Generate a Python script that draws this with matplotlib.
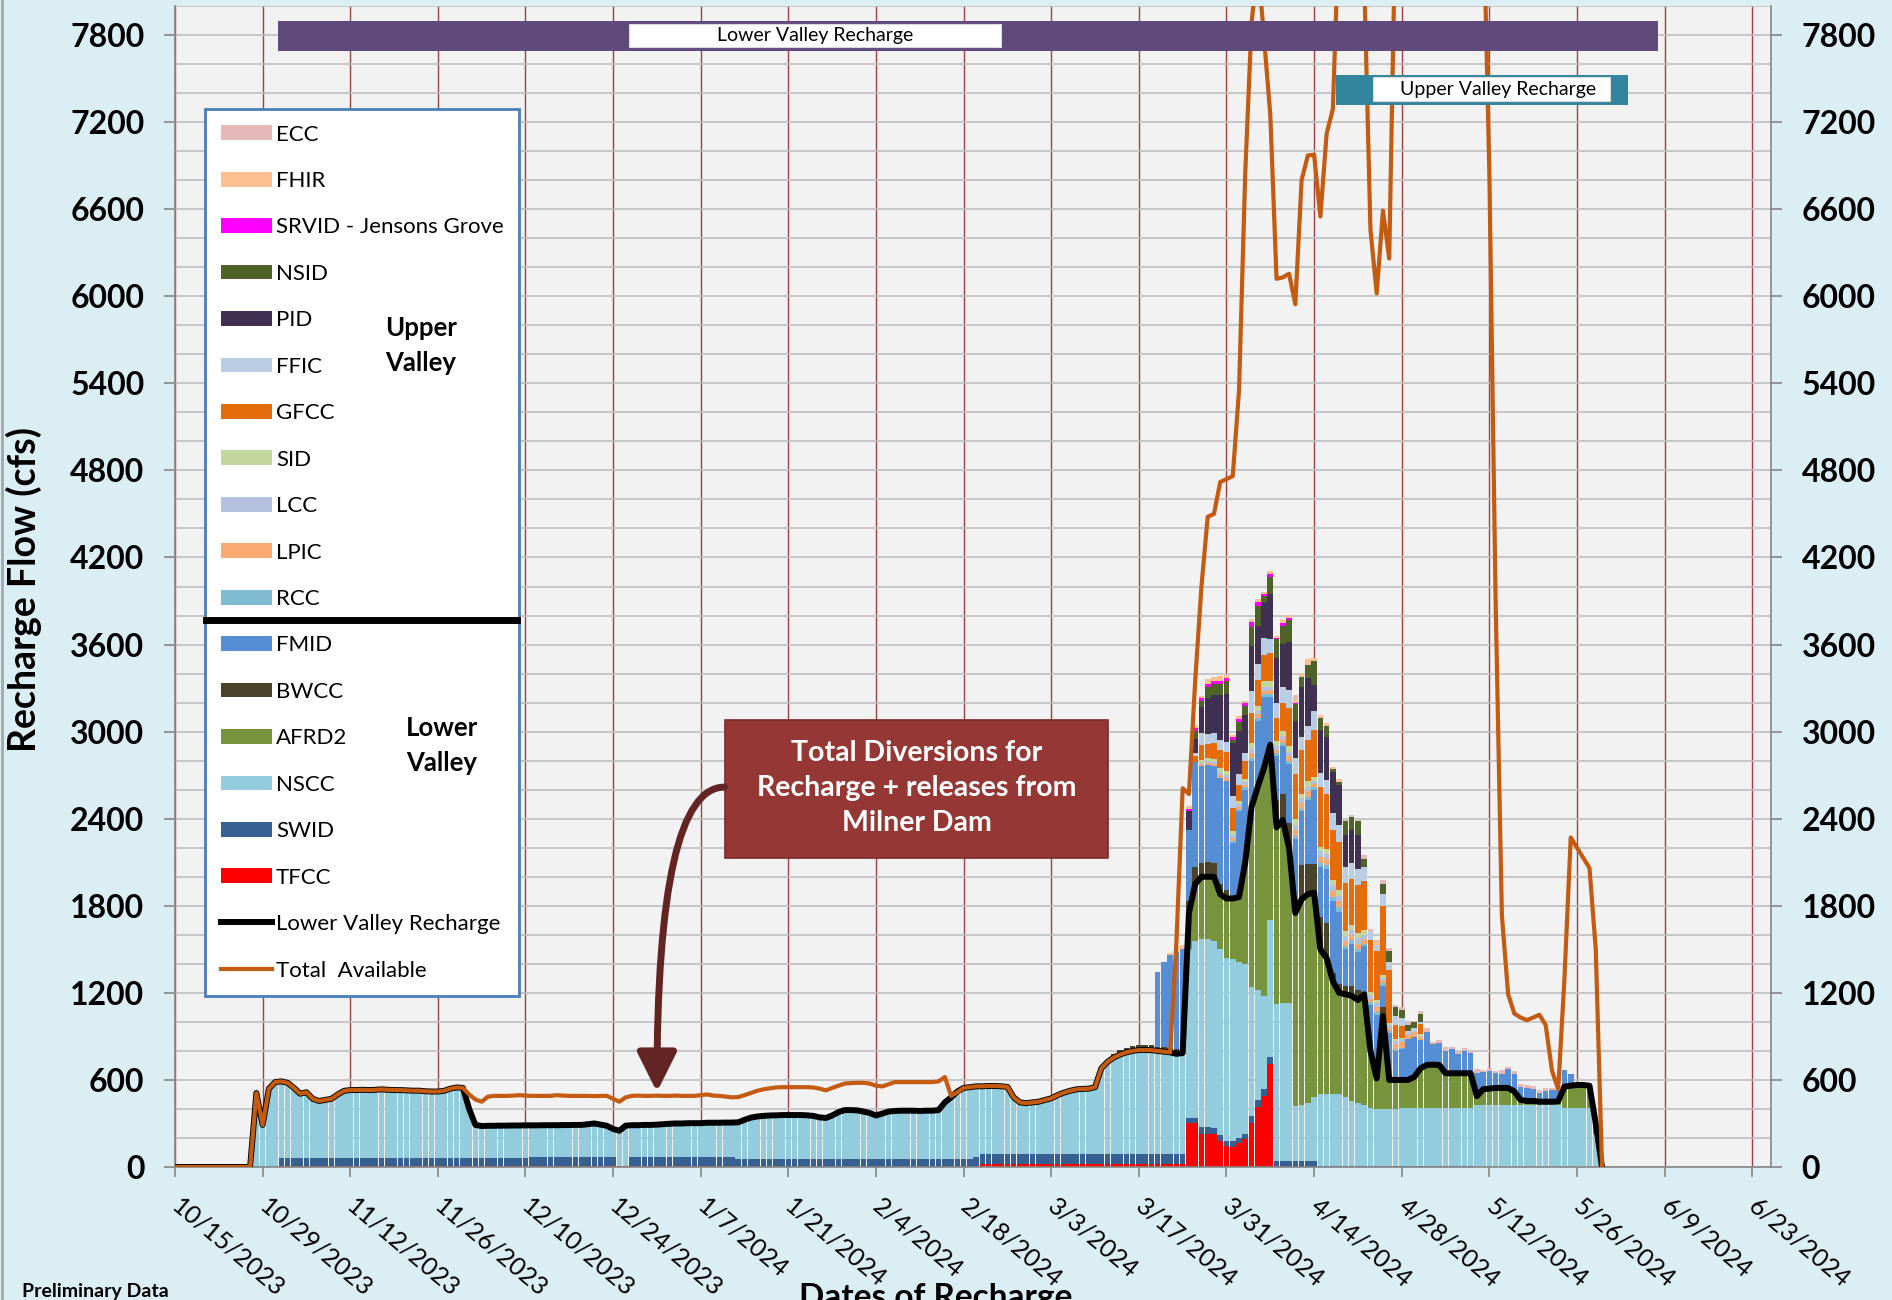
import numpy as np
import pandas as pd
import matplotlib
matplotlib.use('Agg')
import matplotlib.pyplot as plt
import matplotlib.dates as mdates
from matplotlib.patches import Patch, Rectangle
from matplotlib.lines import Line2D

plt.rcParams['font.family'] = ['Lato', 'DejaVu Sans']

# daily values 10/15/2023 .. 5/30/2024 (cfs)
dates = pd.date_range('2023-10-15', '2024-05-30', freq='D')

# lower valley recharge (black line)
lvr = [0, 0, 0, 0, 0, 0, 0, 0, 0, 0,
       0, 0, 0, 510, 290, 540, 585, 590, 580, 545,
       505, 515, 470, 455, 462, 470, 500, 525, 530, 530,
       532, 530, 532, 535, 532, 530, 530, 528, 526, 526,
       522, 520, 520, 525, 540, 548, 545, 400, 290, 282,
       284, 284, 285, 285, 286, 286, 287, 287, 287, 288,
       288, 288, 289, 289, 290, 290, 295, 300, 292, 284,
       262, 250, 285, 288, 288, 290, 290, 292, 295, 298,
       300, 300, 302, 302, 302, 305, 305, 305, 306, 306,
       308, 325, 340, 348, 352, 355, 356, 358, 358, 358,
       358, 356, 352, 342, 338, 355, 378, 392, 392, 390,
       382, 372, 355, 368, 382, 386, 388, 388, 388, 386,
       388, 388, 392, 445, 480, 520, 545, 550, 556, 556,
       558, 558, 556, 552, 480, 445, 440, 445, 450, 462,
       473, 495, 512, 525, 535, 538, 540, 550, 680, 725,
       755, 775, 790, 800, 806, 806, 805, 800, 795, 790,
       780, 785, 1750, 1950, 2000, 2000, 2000, 1880, 1850, 1850,
       1860, 2100, 2480, 2620, 2750, 2910, 2340, 2390, 2200, 1750,
       1845, 1880, 1890, 1500, 1440, 1280, 1200, 1190, 1180, 1150,
       1190, 800, 610, 1040, 600, 600, 600, 600, 620, 680,
       703, 705, 703, 646, 646, 646, 646, 646, 488, 536,
       540, 545, 545, 545, 520, 462, 455, 455, 450, 450,
       450, 452, 554, 560, 565, 565, 560, 300, 0]

# total available (orange line)
total = [0, 0, 0, 0, 0, 0, 0, 0, 0, 0,
         0, 0, 0, 510, 290, 540, 585, 590, 580, 545,
         505, 515, 470, 455, 462, 470, 500, 525, 530, 530,
         532, 530, 532, 535, 532, 530, 530, 528, 526, 526,
         522, 520, 520, 525, 540, 548, 545, 500, 465, 450,
         485, 490, 490, 490, 492, 495, 492, 490, 490, 490,
         490, 495, 492, 490, 490, 490, 490, 488, 490, 490,
         470, 450, 480, 490, 492, 490, 490, 492, 490, 490,
         492, 490, 490, 490, 495, 500, 492, 490, 485, 480,
         482, 495, 510, 525, 535, 542, 548, 550, 550, 550,
         550, 550, 548, 540, 528, 545, 560, 575, 578, 580,
         580, 575, 560, 555, 570, 585, 585, 585, 585, 585,
         585, 585, 590, 620, 490, 515, 545, 550, 556, 556,
         558, 558, 556, 552, 480, 445, 440, 445, 450, 462,
         473, 495, 512, 525, 535, 538, 540, 550, 680, 725,
         755, 775, 790, 800, 806, 806, 805, 800, 795, 790,
         1550, 2610, 2570, 3350, 4000, 4480, 4500, 4720, 4740, 4760,
         5350, 6850, 7880, 8300, 7780, 7250, 6120, 6130, 6155, 5945,
         6800, 6970, 6975, 6550, 7120, 7290, 8600, 9500, 9800, 9500,
         8200, 6460, 6020, 6590, 6260, 8600, 9500, 9500, 9500, 9500,
         9500, 9500, 9500, 9500, 9500, 9500, 9500, 9500, 9500, 8760,
         6850, 3900, 1735, 1190, 1057, 1030, 1012, 1030, 1049, 978,
         665, 535, 1300, 2270, 2200, 2130, 2060, 1500, 0]

tfcc = [0, 0, 0, 0, 0, 0, 0, 0, 0, 0,
        0, 0, 0, 0, 0, 0, 0, 10, 10, 10,
        10, 10, 10, 10, 10, 10, 10, 10, 10, 10,
        10, 10, 10, 10, 10, 10, 10, 10, 10, 10,
        10, 10, 10, 10, 10, 10, 10, 10, 10, 10,
        10, 10, 10, 10, 10, 10, 10, 10, 10, 10,
        10, 10, 10, 10, 10, 10, 10, 10, 10, 10,
        10, 10, 10, 10, 10, 10, 10, 10, 10, 10,
        10, 10, 10, 10, 10, 10, 10, 10, 10, 10,
        0, 0, 0, 0, 0, 0, 0, 0, 0, 0,
        0, 0, 0, 0, 0, 0, 0, 0, 0, 0,
        0, 0, 0, 0, 0, 0, 0, 0, 0, 0,
        0, 0, 0, 0, 0, 0, 0, 0, 0, 20,
        20, 20, 20, 20, 20, 20, 20, 20, 20, 20,
        20, 20, 20, 20, 20, 20, 20, 20, 20, 20,
        20, 20, 20, 20, 20, 20, 20, 20, 20, 20,
        20, 20, 300, 300, 225, 230, 225, 180, 145, 140,
        165, 190, 300, 410, 490, 710, 0, 0, 0, 0,
        0, 0, 0, 0, 0, 0, 0, 0, 0, 0,
        0, 0, 0, 0, 0, 0, 0, 0, 0, 0,
        0, 0, 0, 0, 0, 0, 0, 0, 0, 0,
        0, 0, 0, 0, 0, 0, 0, 0, 0, 0,
        0, 0, 0, 0, 0, 0, 0, 0, 0]

swid = [0, 0, 0, 0, 0, 0, 0, 0, 0, 0,
        0, 0, 0, 0, 0, 0, 0, 55, 55, 55,
        55, 55, 55, 55, 55, 55, 55, 55, 55, 55,
        55, 55, 55, 55, 55, 55, 55, 55, 55, 55,
        55, 55, 55, 55, 55, 55, 55, 55, 55, 55,
        55, 55, 55, 55, 55, 55, 55, 62, 62, 62,
        62, 62, 62, 62, 62, 62, 62, 62, 62, 62,
        62, 0, 0, 58, 58, 58, 58, 58, 58, 58,
        58, 58, 58, 58, 58, 58, 58, 58, 58, 58,
        58, 58, 58, 58, 58, 58, 58, 58, 58, 58,
        58, 58, 58, 58, 58, 58, 58, 58, 58, 58,
        58, 58, 58, 58, 58, 58, 58, 58, 58, 58,
        58, 58, 58, 58, 58, 58, 58, 58, 68, 68,
        68, 68, 68, 68, 68, 68, 68, 68, 68, 68,
        68, 68, 68, 68, 68, 68, 68, 68, 68, 68,
        68, 68, 68, 68, 68, 68, 68, 68, 68, 68,
        68, 68, 35, 35, 48, 48, 45, 40, 35, 36,
        36, 40, 48, 54, 47, 47, 42, 42, 42, 42,
        42, 42, 42, 8, 8, 8, 8, 8, 8, 8,
        8, 8, 8, 8, 8, 8, 8, 8, 8, 8,
        8, 8, 8, 8, 8, 8, 8, 8, 0, 0,
        0, 0, 0, 0, 0, 0, 0, 0, 0, 0,
        0, 0, 0, 0, 0, 0, 0, 0, 0]

nscc = [0, 0, 0, 0, 0, 0, 0, 0, 0, 0,
        0, 0, 0, 510, 290, 540, 585, 525, 515, 480,
        440, 450, 405, 390, 397, 405, 435, 460, 465, 465,
        467, 465, 467, 470, 467, 465, 465, 463, 461, 461,
        457, 455, 455, 460, 475, 483, 480, 335, 225, 217,
        219, 219, 220, 220, 221, 221, 222, 215, 215, 216,
        216, 216, 217, 217, 218, 218, 223, 228, 220, 212,
        190, 240, 275, 220, 220, 222, 222, 224, 227, 230,
        232, 232, 234, 234, 234, 237, 237, 237, 238, 238,
        250, 267, 282, 290, 294, 297, 298, 300, 300, 300,
        300, 298, 294, 284, 280, 297, 320, 334, 334, 332,
        324, 314, 297, 310, 324, 328, 330, 330, 330, 328,
        330, 330, 334, 387, 422, 462, 487, 492, 488, 468,
        470, 470, 468, 464, 392, 357, 352, 357, 362, 374,
        385, 407, 424, 437, 447, 450, 452, 462, 592, 637,
        667, 687, 702, 712, 718, 718, 717, 712, 707, 702,
        692, 697, 1165, 1225, 1297, 1292, 1290, 1280, 1260, 1254,
        1209, 1170, 892, 756, 643, 943, 1078, 1088, 1088, 378,
        388, 398, 438, 492, 497, 497, 492, 472, 447, 432,
        422, 397, 392, 392, 392, 392, 397, 397, 397, 397,
        397, 397, 397, 397, 397, 397, 397, 397, 428, 428,
        428, 428, 428, 428, 428, 428, 428, 428, 428, 428,
        428, 428, 405, 405, 405, 405, 405, 230, 0]

# series that only run in spring: values from 3/13/2024 to 5/30/2024
late_start = '2024-03-13'
afrd2 = [0, 0, 0, 0, 0, 0, 0, 0, 0, 0,
         0, 0, 250, 390, 430, 430, 440, 380, 410, 420,
         450, 700, 1240, 1400, 1570, 1210, 1220, 1260, 1070, 1330,
         1415, 1440, 1410, 1000, 935, 775, 700, 710, 725, 710,
         760, 395, 210, 640, 200, 200, 195, 195, 215, 275,
         298, 300, 298, 241, 241, 241, 241, 241, 60, 108,
         112, 117, 117, 117, 92, 34, 27, 27, 22, 22,
         22, 24, 149, 155, 160, 160, 155, 70, 0]
bwcc = [25, 30, 30, 35, 35, 35, 35, 30, 30, 30,
        30, 30, 80, 120, 95, 100, 95, 70, 60, 0,
        0, 0, 0, 0, 0, 0, 190, 180, 170, 100,
        235, 210, 200, 220, 240, 60, 60, 60, 70, 70,
        0, 0, 0, 60, 0, 0, 0, 0, 0, 0,
        0, 0, 0, 0, 0, 0, 0, 0, 0, 0,
        0, 0, 0, 0, 0, 0, 0, 0, 0, 0,
        0, 0, 0, 0, 0, 0, 0, 0, 0]
fmid = [0, 0, 0, 0, 0, 0, 0, 516, 590, 641,
        674, 685, 490, 720, 667, 670, 665, 730, 750, 380,
        590, 500, 320, 455, 488, 330, 300, 330, 410, 410,
        370, 440, 510, 348, 370, 490, 500, 250, 290, 260,
        330, 316, 440, 150, 325, 200, 210, 280, 279, 196,
        230, 143, 150, 156, 165, 133, 156, 138, 158, 121,
        124, 101, 96, 129, 121, 87, 88, 81, 58, 74,
        81, 79, 115, 81, 0, 0, 0, 0, 0]
rcc = [0, 0, 0, 0, 0, 0, 0, 0, 0, 0,
       0, 0, 0, 0, 0, 0, 0, 0, 0, 15,
       15, 15, 20, 20, 20, 20, 20, 20, 20, 20,
       20, 20, 20, 30, 30, 30, 30, 25, 25, 25,
       20, 20, 20, 15, 15, 10, 10, 0, 0, 0,
       0, 0, 0, 0, 0, 0, 0, 0, 0, 0,
       0, 0, 0, 0, 0, 0, 0, 0, 0, 0,
       0, 0, 0, 0, 0, 0, 0, 0, 0]
lpic = [0, 0, 0, 0, 0, 0, 0, 0, 0, 0,
        0, 0, 0, 0, 15, 15, 15, 20, 20, 20,
        15, 20, 30, 25, 25, 25, 25, 25, 30, 40,
        40, 40, 20, 40, 40, 40, 40, 35, 35, 35,
        30, 25, 30, 20, 20, 40, 40, 30, 30, 20,
        0, 0, 0, 0, 0, 0, 0, 0, 0, 0,
        0, 0, 0, 0, 0, 0, 0, 0, 0, 0,
        0, 0, 0, 0, 0, 0, 0, 0, 0]
lcc = [0, 0, 0, 0, 0, 0, 0, 0, 0, 0,
       0, 0, 0, 0, 10, 15, 15, 20, 20, 20,
       20, 20, 30, 25, 25, 25, 25, 25, 30, 40,
       30, 30, 20, 40, 40, 40, 40, 35, 35, 35,
       30, 25, 30, 20, 20, 20, 20, 10, 10, 10,
       0, 0, 0, 0, 0, 0, 0, 0, 0, 0,
       0, 0, 0, 0, 0, 0, 0, 0, 0, 0,
       0, 0, 0, 0, 0, 0, 0, 0, 0]
sid = [0, 0, 0, 0, 0, 0, 0, 0, 0, 0,
       0, 0, 0, 0, 15, 15, 20, 30, 30, 30,
       25, 20, 40, 30, 40, 40, 35, 35, 40, 40,
       30, 40, 30, 30, 30, 40, 40, 30, 30, 40,
       30, 20, 20, 15, 15, 10, 10, 0, 0, 10,
       0, 0, 0, 0, 0, 0, 0, 0, 0, 0,
       0, 0, 0, 0, 0, 0, 0, 0, 0, 0,
       0, 0, 0, 0, 0, 0, 0, 0, 0]
gfcc = [0, 0, 0, 0, 0, 0, 0, 0, 0, 0,
        0, 0, 0, 45, 109, 100, 110, 120, 130, 160,
        110, 120, 210, 180, 180, 190, 160, 190, 260, 310,
        300, 280, 320, 410, 380, 340, 330, 330, 320, 330,
        340, 360, 340, 480, 360, 100, 80, 0, 0, 70,
        0, 0, 0, 0, 0, 0, 0, 0, 0, 0,
        0, 0, 0, 0, 0, 0, 0, 0, 0, 0,
        0, 0, 0, 0, 0, 0, 0, 0, 0]
ffic = [0, 0, 0, 0, 0, 0, 0, 0, 0, 0,
        0, 0, 0, 20, 82, 70, 70, 70, 70, 80,
        70, 60, 150, 110, 120, 95, 100, 110, 130, 110,
        95, 100, 130, 95, 100, 120, 120, 110, 110, 110,
        100, 50, 40, 80, 60, 60, 60, 20, 20, 10,
        0, 0, 0, 0, 0, 0, 0, 0, 0, 0,
        0, 0, 0, 0, 0, 0, 0, 0, 0, 0,
        0, 0, 0, 0, 0, 0, 0, 0, 0]
pid = [0, 0, 0, 0, 0, 0, 0, 0, 0, 0,
       0, 0, 130, 95, 177, 250, 260, 310, 330, 370,
       300, 260, 310, 260, 245, 316, 310, 300, 330, 250,
       340, 330, 180, 300, 290, 280, 270, 220, 230, 230,
       0, 0, 0, 0, 0, 0, 0, 0, 0, 0,
       0, 0, 0, 0, 0, 0, 0, 0, 0, 0,
       0, 0, 0, 0, 0, 0, 0, 0, 0, 0,
       0, 0, 0, 0, 0, 0, 0, 0, 0]
nsid = [0, 0, 0, 0, 0, 0, 0, 0, 0, 0,
        0, 0, 0, 55, 41, 70, 75, 75, 90, 20,
        60, 60, 130, 140, 40, 117, 130, 125, 150, 120,
        70, 90, 170, 80, 80, 20, 25, 100, 90, 100,
        55, 0, 0, 70, 70, 60, 55, 40, 40, 60,
        0, 0, 0, 0, 0, 0, 0, 0, 0, 0,
        0, 0, 0, 0, 0, 0, 0, 0, 0, 0,
        0, 0, 0, 0, 0, 0, 0, 0, 0]
srvid = [0, 0, 0, 0, 0, 0, 0, 0, 0, 0,
         0, 0, 20, 20, 22, 25, 25, 25, 20, 20,
         25, 20, 32, 30, 16, 20, 10, 20, 10, 10,
         0, 0, 0, 0, 0, 0, 0, 0, 0, 0,
         0, 0, 0, 0, 0, 0, 0, 0, 0, 0,
         0, 0, 0, 0, 0, 0, 0, 0, 0, 0,
         0, 0, 0, 0, 0, 0, 0, 0, 0, 0,
         0, 0, 0, 0, 0, 0, 0, 0, 0]
fhir = [0, 0, 0, 0, 0, 0, 0, 0, 0, 16,
        34, 30, 20, 22, 12, 30, 25, 30, 20, 15,
        20, 16, 25, 18, 15, 20, 15, 19, 24, 25,
        26, 37, 20, 23, 21, 14, 17, 0, 0, 0,
        0, 0, 20, 0, 0, 0, 0, 0, 0, 0,
        0, 0, 0, 0, 0, 0, 0, 0, 0, 0,
        0, 0, 0, 0, 0, 0, 0, 0, 0, 0,
        0, 0, 0, 0, 0, 0, 0, 0, 0]
ecc = [0, 0, 0, 0, 0, 0, 0, 0, 0, 0,
       0, 0, 0, 0, 0, 0, 0, 0, 0, 0,
       0, 0, 0, 0, 0, 0, 0, 0, 0, 25,
       0, 0, 0, 0, 0, 0, 0, 9, 12, 9,
       25, 22, 15, 30, 25, 16, 15, 13, 10, 22,
       23, 16, 19, 23, 19, 16, 21, 16, 30, 12,
       16, 16, 28, 18, 20, 20, 20, 20, 20, 18,
       12, 0, 0, 0, 0, 0, 0, 0, 0]

tick_labels = ['10/15/2023', '10/29/2023', '11/12/2023', '11/26/2023', '12/10/2023',
               '12/24/2023', '1/7/2024', '1/21/2024', '2/4/2024', '2/18/2024',
               '3/3/2024', '3/17/2024', '3/31/2024', '4/14/2024', '4/28/2024',
               '5/12/2024', '5/26/2024', '6/9/2024', '6/23/2024']

for arr in (lvr, total, tfcc, swid, nscc):
    assert len(arr) == len(dates), len(arr)
n_late = len(pd.date_range(late_start, dates[-1]))
for arr in (afrd2, bwcc, fmid, rcc, lpic, lcc, sid, gfcc, ffic, pid, nsid, srvid, fhir, ecc):
    assert len(arr) == n_late, len(arr)


def full(late):
    out = np.zeros(len(dates))
    out[len(dates) - n_late:] = late
    return out


# stacking order, bottom to top
series = [
    ('TFCC', np.array(tfcc, float), '#FF0000'),
    ('SWID', np.array(swid, float), '#376092'),
    ('NSCC', np.array(nscc, float), '#93CDDD'),
    ('AFRD2', full(afrd2), '#77933C'),
    ('BWCC', full(bwcc), '#4A452A'),
    ('FMID', full(fmid), '#558ED5'),
    ('RCC', full(rcc), '#7FBCD2'),
    ('LPIC', full(lpic), '#F9A870'),
    ('LCC', full(lcc), '#B3C1DE'),
    ('SID', full(sid), '#C3D69B'),
    ('GFCC', full(gfcc), '#E46C0A'),
    ('FFIC', full(ffic), '#B9CDE5'),
    ('PID', full(pid), '#403152'),
    ('NSID', full(nsid), '#4F6228'),
    ('SRVID - Jensons Grove', full(srvid), '#FF00FF'),
    ('FHIR', full(fhir), '#FAC090'),
    ('ECC', full(ecc), '#E6B9B8'),
]

orange = '#C55A11'
fig = plt.figure(figsize=(18.92, 13), dpi=100, facecolor='#DBEEF4')
ax = fig.add_axes([175 / 1892, 1 - 1167 / 1300, 1596 / 1892, 1161 / 1300])
ax.set_facecolor('#F2F2F2')

x = mdates.date2num(dates)
x0 = mdates.date2num(pd.Timestamp('2023-10-15'))
bottom = np.zeros(len(dates))
for name, vals, col in series:
    ax.bar(x, vals, width=0.9, bottom=bottom, color=col, linewidth=0, zorder=2)
    bottom += vals

ax.plot(x, lvr, color='black', lw=4.3, zorder=4, solid_joinstyle='round')
ax.plot(x, total, color=orange, lw=3.0, zorder=5, solid_joinstyle='round')

ax.set_xlim(x0, x0 + 255)
ax.set_ylim(0, 8000)

yt = np.arange(0, 7801, 600)
ax.set_yticks(yt, labels=[str(v) for v in yt], fontsize=23, fontweight='bold')
ax.set_yticks(np.arange(0, 8001, 200), minor=True)
ax.tick_params(axis='y', which='major', direction='out', length=8, width=1.2,
               color='#868686', pad=14, left=True, right=True,
               labelleft=True, labelright=True)
ax.tick_params(axis='y', which='minor', length=0, left=True, right=True)
ax.grid(axis='y', which='both', color='#BFBFBF', lw=1.2)

xt = mdates.date2num(pd.date_range('2023-10-15', '2024-06-23', freq='14D'))
ax.set_xticks(xt, labels=tick_labels, fontsize=18, rotation=-40, ha='left',
              va='center', rotation_mode='anchor')
ax.tick_params(axis='x', direction='out', length=7, width=1.2, color='#868686', pad=19)
ax.grid(axis='x', which='major', color='#A04040', lw=1.0)
ax.set_axisbelow(True)

ax.spines['top'].set_visible(False)
for s in ('left', 'right', 'bottom'):
    ax.spines[s].set_color('#868686')
    ax.spines[s].set_linewidth(1.2)

# recharge period banners
ax.add_patch(Rectangle((x0 + 16.4, 7690), 220.6, 205, facecolor='#604A7B',
                       edgecolor='none', zorder=6))
ax.add_patch(Rectangle((x0 + 72.6, 7715), 59.4, 160, facecolor='white',
                       edgecolor='#D9D9D9', lw=0.8, zorder=7))
ax.text(x0 + 102.3, 7795, 'Lower Valley Recharge', fontsize=14, ha='center',
        va='center', zorder=8)
ax.add_patch(Rectangle((x0 + 185.5, 7318), 46.7, 209, facecolor='#31859C',
                       edgecolor='none', zorder=6))
ax.add_patch(Rectangle((x0 + 191.4, 7342), 37.8, 172, facecolor='white',
                       edgecolor='#D9D9D9', lw=0.8, zorder=7))
ax.text(x0 + 211.4, 7428, 'Upper Valley Recharge', fontsize=14, ha='center',
        va='center', zorder=8)

# callout
ax.add_patch(Rectangle((x0 + 87.8, 2129), 61.3, 951, facecolor='#953735',
                       edgecolor='#7A2C2A', lw=1.2, zorder=6))
ax.text(x0 + 118.5, 2610, 'Total Diversions for\nRecharge + releases from\nMilner Dam',
        color='white', fontsize=20.5, fontweight='bold', ha='center', va='center',
        linespacing=1.42, zorder=7)
ax.annotate('', xy=(x0 + 77.0, 517), xytext=(x0 + 87.8, 2618),
            arrowprops=dict(arrowstyle='-|>,head_length=0.8,head_width=0.4',
                            mutation_scale=30, lw=5, color='#632523',
                            connectionstyle='angle3,angleA=0,angleB=90',
                            shrinkA=0, shrinkB=0),
            zorder=6)

# legend
handles = [Patch(facecolor=c, edgecolor='none', label=n) for n, v, c in series[::-1]]
handles += [Line2D([], [], color='black', lw=4.3, label='Lower Valley Recharge'),
            Line2D([], [], color=orange, lw=3.0, label='Total  Available')]
leg = ax.legend(handles=handles, loc='upper left',
                bbox_to_anchor=(0.0188, 0.1499, 0.1967, 0.7614), mode='expand',
                borderaxespad=0, fontsize=16, labelspacing=1.19, handlelength=2.3,
                handleheight=0.65, handletextpad=0.2, borderpad=0.7,
                fancybox=False, framealpha=1, facecolor='white', edgecolor='#4A7EBB')
leg.get_frame().set_linewidth(2)
leg.set_zorder(10)

W, H = 1892, 1300
fig.add_artist(Line2D([206 / W, 517 / W], [1 - 620 / H, 1 - 620 / H], color='black', lw=5))
for txt, px, py in [('Upper', 385, 328), ('Valley', 385, 363),
                    ('Lower', 406, 728), ('Valley', 406, 763)]:
    fig.text(px / W, 1 - py / H, txt, fontsize=18.5, fontweight='bold', ha='left', va='center')

fig.add_artist(Line2D([1.5 / W, 1.5 / W], [0, 1], color='#A6A6A6', lw=2))
fig.text(24 / W, 1 - 589 / H, 'Recharge Flow (cfs)', rotation=90, fontsize=27,
         fontweight='bold', ha='center', va='center')
fig.text(936 / W, 1 - 1283 / H, 'Dates of Recharge', fontsize=24, fontweight='bold',
         ha='center', va='top')
fig.text(22 / W, 1 - 1283 / H, 'Preliminary Data', fontsize=14, fontweight='bold',
         ha='left', va='top')

fig.savefig('out.png', dpi=100, facecolor=fig.get_facecolor())
